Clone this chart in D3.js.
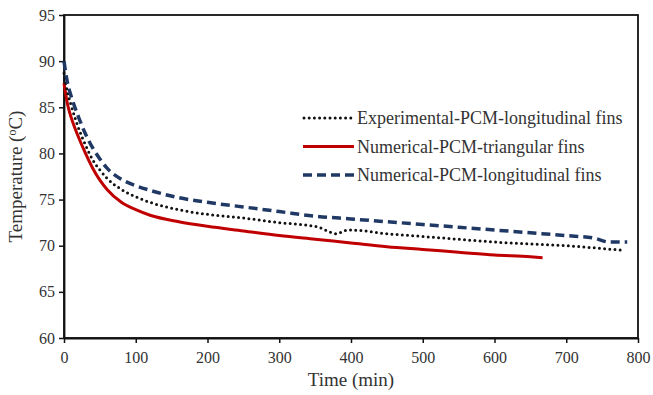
<!DOCTYPE html>
<html>
<head>
<meta charset="utf-8">
<script src="https://cdn.jsdelivr.net/npm/d3@7/dist/d3.min.js"></script>
<style>
body { margin: 0; background: #fff; }
text { font-family: "Liberation Serif", "Times New Roman", serif; fill: #333; }
</style>
</head>
<body>
<div id="chart"></div>
<script>
var expTime = [0,5,10,20,30,40,50,60,80,100,120,160,200,250,300,340,355,370,380,390,400,450,500,550,600,650,700,750,780]
var expTemp = [88.7,86.6,85.2,82.8,80.9,79.3,78.2,77.3,76.1,75.3,74.7,73.9,73.4,73.0,72.5,72.2,72.0,71.5,71.3,71.6,71.7,71.3,71.0,70.7,70.4,70.2,70.0,69.7,69.5]

var triTime = [0,5,10,20,30,40,50,60,80,100,120,160,200,250,300,350,400,450,500,550,600,650,667]
var triTemp = [87.6,85.3,83.9,81.8,80.0,78.4,77.1,76.1,74.7,73.9,73.3,72.6,72.1,71.6,71.1,70.7,70.3,69.9,69.6,69.3,69.0,68.8,68.7]

var lonTime = [0,5,10,20,30,40,50,60,80,100,120,160,200,250,300,350,400,450,500,550,600,650,700,740,760,785]
var lonTemp = [90,87.6,86.2,84.0,82.1,80.6,79.4,78.4,77.2,76.5,76.0,75.2,74.7,74.2,73.7,73.2,72.9,72.6,72.3,72.0,71.7,71.4,71.1,70.8,70.4,70.4]

var seriesNames = ['Experimental-PCM-longitudinal fins', 'Numerical-PCM-triangular fins', 'Numerical-PCM-longitudinal fins']
var xTicks = [0,100,200,300,400,500,600,700,800]
var yTicks = [60,65,70,75,80,85,90,95]

var margin = { top: 15, left: 64, right: 15, bottom: 57 }
var width = 653 - margin.left - margin.right,
    height = 395 - margin.top - margin.bottom

var svg = d3.select('#chart').append('svg')
    .attr('width', 653)
    .attr('height', 395)

var g = svg.append('g')
    .attr('transform', 'translate(' + margin.left + ',' + margin.top + ')')

var xScale = d3.scaleLinear().domain([0, 800]).range([0, width])
var yScale = d3.scaleLinear().domain([60, 95]).range([height, 0])

// box
g.append('rect')
    .attr('width', width)
    .attr('height', height)
    .attr('fill', 'none')
    .attr('stroke', '#111')
    .attr('stroke-width', 1.8)

var xAxis = d3.axisBottom(xScale).tickValues(xTicks).tickSize(5).tickSizeOuter(0)
var xg = g.append('g').attr('transform', 'translate(0,' + height + ')').call(xAxis)
var yAxis = d3.axisLeft(yScale).tickValues(yTicks).tickSize(5).tickSizeOuter(0)
var yg = g.append('g').call(yAxis)

;[xg, yg].forEach(function(a) {
    a.select('.domain').attr('stroke', '#111').attr('stroke-width', 1.8)
    a.selectAll('.tick line').attr('stroke', '#111').attr('stroke-width', 1.5)
    a.selectAll('.tick text')
        .style('font-family', '"Liberation Serif", serif')
        .style('font-size', '16px')
        .attr('fill', '#333')
})
xg.selectAll('.tick text').attr('dy', '1.05em')
yg.selectAll('.tick text').attr('x', -9)

var line = d3.line()
    .x(function(d) { return xScale(d[0]) })
    .y(function(d) { return yScale(d[1]) })
    .curve(d3.curveMonotoneX)

var styles = [
    { color: '#111', width: 3, dash: '0,5.2', cap: 'round' },
    { color: '#c00000', width: 3, dash: null, cap: 'butt' },
    { color: '#1f3864', width: 3.5, dash: '9,5', cap: 'butt' }
]

var data = [d3.zip(expTime, expTemp), d3.zip(triTime, triTemp), d3.zip(lonTime, lonTemp)]
var drawOrder = [1, 0, 2]

drawOrder.forEach(function(i) {
    g.append('path')
        .datum(data[i])
        .attr('d', line)
        .attr('fill', 'none')
        .attr('stroke', styles[i].color)
        .attr('stroke-width', styles[i].width)
        .attr('stroke-dasharray', styles[i].dash)
        .attr('stroke-linecap', styles[i].cap)
})

// legend
var legend = svg.append('g').attr('transform', 'translate(303,118)')
seriesNames.forEach(function(name, i) {
    var row = legend.append('g').attr('transform', 'translate(0,' + (i * 28.5) + ')')
    row.append('line')
        .attr('x1', i === 0 ? 1 : 0).attr('x2', 51)
        .attr('stroke', styles[i].color)
        .attr('stroke-width', styles[i].width)
        .attr('stroke-dasharray', styles[i].dash)
        .attr('stroke-linecap', styles[i].cap)
    row.append('text')
        .attr('x', 54)
        .attr('y', 6)
        .style('font-size', '18px')
        .text(name)
})

// axis titles
svg.append('text')
    .attr('x', margin.left + width / 2)
    .attr('y', 386)
    .attr('text-anchor', 'middle')
    .style('font-size', '19px')
    .text('Time (min)')

svg.append('text')
    .attr('transform', 'translate(22,' + (margin.top + height / 2) + ') rotate(-90)')
    .attr('text-anchor', 'middle')
    .style('font-size', '19px')
    .html('Temperature (<tspan dy="-6" font-size="12">o</tspan><tspan dy="6">C)</tspan>')
</script>
</body>
</html>
